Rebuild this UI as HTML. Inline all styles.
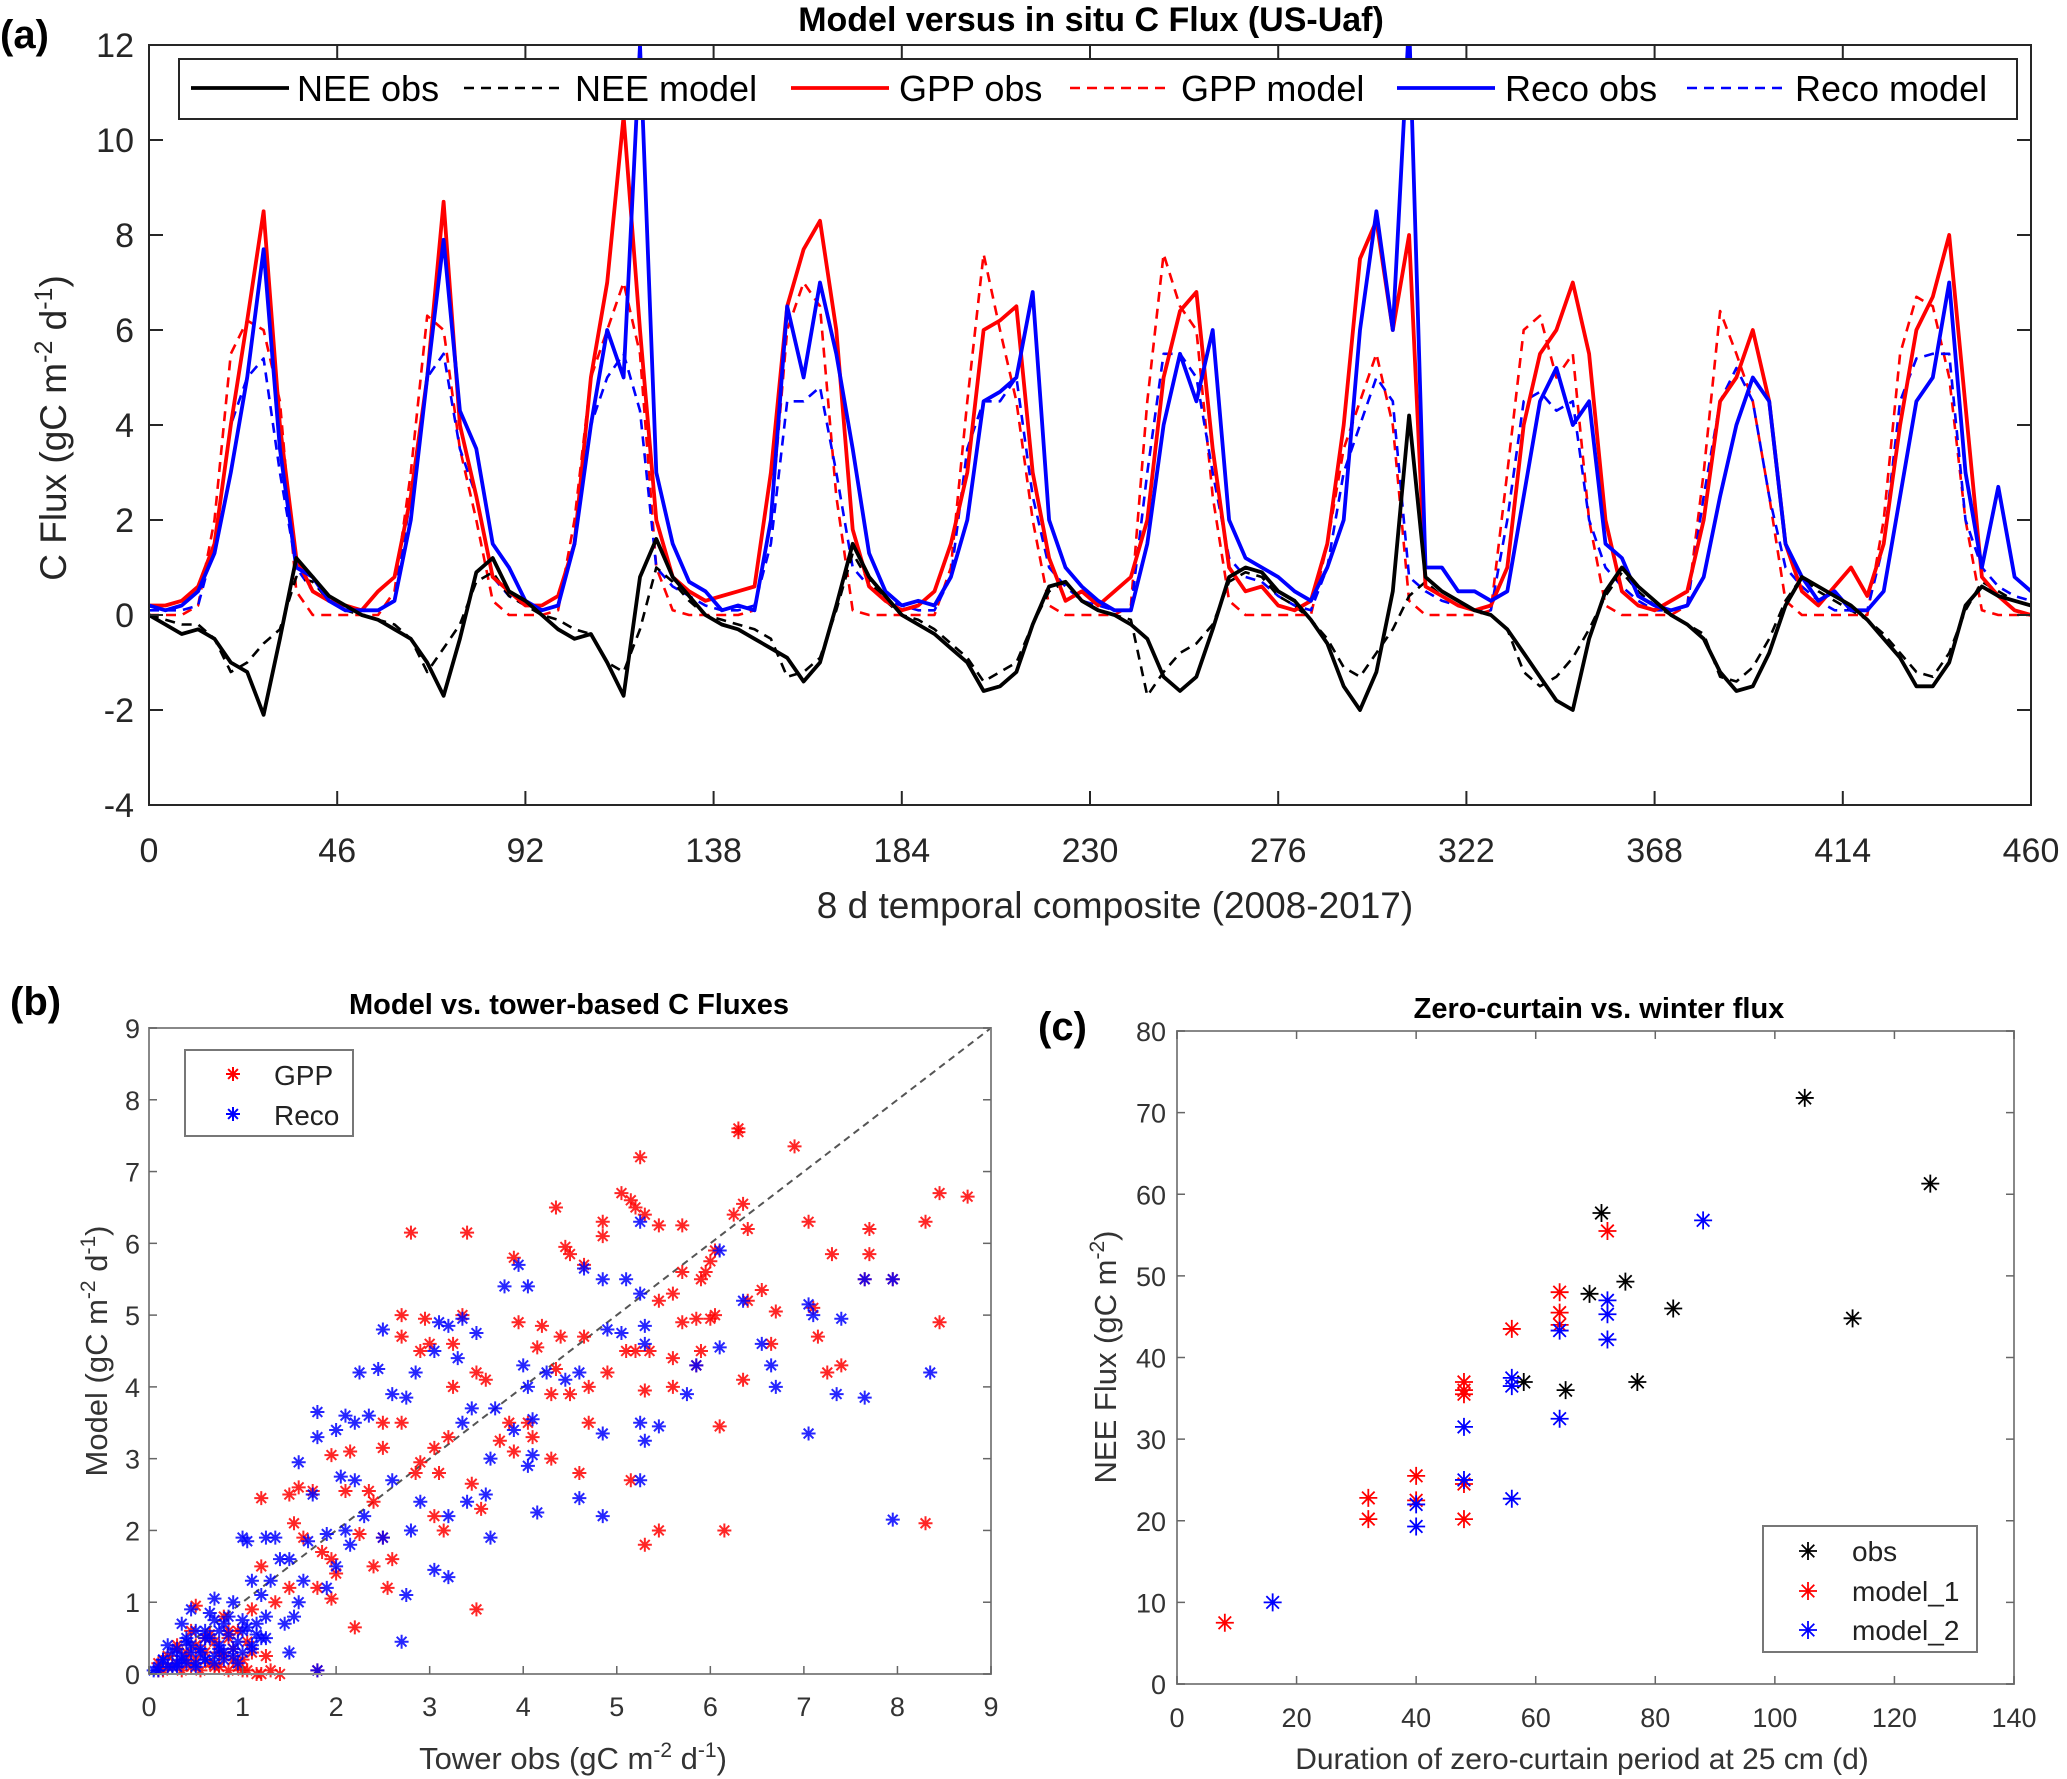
<!DOCTYPE html>
<html><head><meta charset="utf-8"><style>
html,body{margin:0;padding:0;background:#fff;}
svg{display:block;font-family:"Liberation Sans",Arial,sans-serif;}
</style></head><body>
<svg id="fig" width="2067" height="1779" viewBox="0 0 2067 1779" xmlns="http://www.w3.org/2000/svg">
<rect width="2067" height="1779" fill="#fff"/>
<g id="pa"></g>
<g id="pb"></g>
<g id="pc"></g>
</svg>
<script>
// ---------- Panel (a) data: values at x = 0,4,8,...,460 ----------
const tsStep = 4;
const gppObs = [0.2,0.2,0.3,0.6,1.5,4,6.2,8.5,4,1.2,0.5,0.3,0.2,0.1,0.5,0.8,2.5,5,8.7,4,2.5,0.8,0.5,0.2,0.2,0.4,1.5,5,7,10.5,6,2,0.8,0.5,0.3,0.4,0.5,0.6,3,6.5,7.7,8.3,6,1.8,0.6,0.3,0.1,0.2,0.5,1.5,3,6,6.2,6.5,3,1.2,0.3,0.5,0.2,0.5,0.8,2,5,6.4,6.8,3.5,1,0.5,0.6,0.2,0.1,0.3,1.5,4,7.5,8.3,6,8,0.6,0.4,0.2,0.1,0.2,1,4,5.5,6,7,5.5,2,0.5,0.2,0.1,0.3,0.5,2,4.5,5,6,4.5,1.5,0.5,0.2,0.6,1.0,0.4,1.5,4,6,6.7,8,4.4,0.8,0.4,0.1,0];
const recoObs = [0.2,0.1,0.2,0.5,1.3,3,5,7.7,3.5,1.0,0.8,0.3,0.1,0.1,0.1,0.3,2,5,7.9,4.3,3.5,1.5,1.0,0.3,0.1,0.2,1.5,4,6,5,12,3,1.5,0.7,0.5,0.1,0.2,0.1,2,6.5,5,7,5.5,3.5,1.3,0.5,0.2,0.3,0.2,0.8,2,4.5,4.7,5,6.8,2,1,0.6,0.3,0.1,0.1,1.5,4,5.5,4.5,6,2,1.2,1.0,0.8,0.5,0.3,1.0,2,6,8.5,6,12.5,1.0,1.0,0.5,0.5,0.3,0.5,2.5,4.5,5.2,4,4.5,1.5,1.2,0.4,0.2,0.1,0.2,0.8,2.5,4,5,4.5,1.5,0.8,0.3,0.5,0.1,0.1,0.5,2.5,4.5,5,7,3,1,2.7,0.8,0.5];
const gppMod = [0,0,0,0.2,2,5.5,6.2,6,4.5,0.5,0,0,0,0,0,0.5,3,6.3,6,3.5,2,0.3,0,0,0,0.1,2,5,6,7,5.5,1,0.1,0,0,0,0,0.1,2,6,7,6.5,2.5,0.1,0,0,0,0,0,1,4.5,7.6,6,4.5,2,0.2,0,0,0,0,0.2,4.5,7.6,6.5,6,2.5,0.3,0,0,0,0,0,1.5,3.5,4.5,5.5,4,0.3,0,0,0,0,0.1,3,6,6.3,5,5.5,2,0.2,0,0,0,0,0.2,3,6.4,5.5,4.5,2.5,0.3,0,0,0,0,0,2,5.5,6.7,6.5,5,2,0.1,0,0,0];
const recoMod = [0.1,0.1,0.1,0.2,1.5,4,5,5.4,3,1.0,0.5,0.3,0.2,0.1,0.1,0.3,2.5,5,5.5,3.5,2.5,0.8,0.4,0.2,0.1,0.2,1.5,4,5,5.5,4.3,1,0.6,0.4,0.2,0.1,0.1,0.2,1.5,4.5,4.5,4.8,3,1,0.6,0.3,0.2,0.1,0.1,0.8,3.5,4.5,4.5,5,2.5,1,0.6,0.3,0.2,0.1,0.1,3,5.5,5.5,5,3,1.2,0.8,0.7,0.4,0.2,0.1,1,3,4,5,4.5,0.8,0.5,0.3,0.2,0.1,0.1,2,4.5,4.7,4.3,4.5,2,1,0.6,0.3,0.1,0.1,0.2,2.5,4.5,5.2,4.5,2.5,1,0.6,0.3,0.1,0.1,0.1,1.5,4.5,5.4,5.5,5.5,2,1,0.6,0.4,0.3];
const neeObs = [0,-0.2,-0.4,-0.3,-0.5,-1,-1.2,-2.1,-0.5,1.2,0.8,0.4,0.2,0,-0.1,-0.3,-0.5,-1,-1.7,-0.5,0.9,1.2,0.5,0.3,0,-0.3,-0.5,-0.4,-1,-1.7,0.8,1.6,0.8,0.4,0,-0.2,-0.3,-0.5,-0.7,-0.9,-1.4,-1.0,0.2,1.5,0.8,0.4,0,-0.2,-0.4,-0.7,-1.0,-1.6,-1.5,-1.2,-0.2,0.6,0.7,0.3,0.1,0,-0.2,-0.5,-1.3,-1.6,-1.3,-0.3,0.8,1.0,0.9,0.5,0.3,-0.1,-0.6,-1.5,-2.0,-1.2,0.5,4.2,0.8,0.5,0.3,0.1,0,-0.3,-0.8,-1.3,-1.8,-2.0,-0.5,0.5,1.0,0.6,0.3,0,-0.2,-0.5,-1.2,-1.6,-1.5,-0.8,0.2,0.8,0.6,0.4,0.2,-0.1,-0.5,-0.9,-1.5,-1.5,-1,0.2,0.6,0.4,0.3,0.2];
const neeMod = [0,-0.1,-0.2,-0.2,-0.5,-1.2,-1.0,-0.6,-0.3,0.8,0.7,0.3,0.1,0,-0.1,-0.2,-0.5,-1.2,-0.7,-0.2,0.7,0.9,0.4,0.2,0,-0.1,-0.3,-0.4,-1.0,-1.2,-0.3,1.0,0.7,0.3,0,-0.1,-0.2,-0.3,-0.5,-1.3,-1.2,-0.9,0.1,1.3,0.7,0.3,0,-0.1,-0.3,-0.6,-0.9,-1.4,-1.2,-1.0,-0.2,0.5,0.7,0.3,0.1,0,-0.1,-1.7,-1.2,-0.8,-0.6,-0.2,0.7,0.9,0.8,0.4,0.2,-0.1,-0.5,-1.1,-1.3,-0.8,-0.3,0.4,0.7,0.4,0.2,0.1,0,-0.3,-1.2,-1.5,-1.3,-0.9,-0.3,0.4,0.9,0.5,0.2,0,-0.2,-0.4,-1.3,-1.4,-1.1,-0.5,0.3,0.8,0.5,0.3,0.1,-0.1,-0.4,-0.8,-1.2,-1.3,-0.8,0.1,0.7,0.5,0.3,0.2];
const aXTicks = [0,46,92,138,184,230,276,322,368,414,460];
const aYTicks = [-4,-2,0,2,4,6,8,10,12];
const aLegendLabels = ["NEE obs","NEE model","GPP obs","GPP model","Reco obs","Reco model"];

// ---------- Panel (b) data ----------
const gppX = [6.3,6.3,6.9,5.25,8.45,8.75,8.3,7.05,2.8,3.4,4.35,5.05,5.15,5.2,5.3,4.85,4.85,5.45,5.7,6.25,6.35,6.4,7.7,7.7,7.3,6.05,6.0,5.95,5.9,5.7,4.45,4.5,4.65,3.9,7.65,7.95,8.45,6.55,6.4,6.05,6.0,5.85,5.7,5.6,5.45,6.7,7.1,7.15,7.25,7.4,6.35,6.65,5.9,5.85,5.6,5.35,5.1,4.65,4.4,4.2,4.15,3.95,4.35,4.3,4.5,4.7,4.9,5.3,5.6,5.2,4.7,4.3,4.05,3.85,3.75,3.5,3.6,3.25,3.0,2.9,2.7,2.7,2.95,3.35,3.25,3.2,3.05,3.1,2.9,2.7,2.5,2.5,2.4,2.35,2.1,2.15,1.95,1.75,1.6,1.5,1.2,1.55,1.85,1.95,2.5,2.4,2.55,3.05,3.15,3.45,3.55,3.5,6.1,6.15,5.3,5.45,5.15,8.3,2.2,1.5,1.2,1.35,1.1,0.95,0.85,0.75,0.5,0.6,0.4,0.3,0.2,0.1,0.5,0.7,1.0,1.2,1.4,1.8,0.9,0.3,1.8,2.0,1.65,2.25,2.85,3.9,4.1,4.6,2.6,1.95,0.8,
 0.15,0.25,0.35,0.45,0.55,0.65,0.75,0.85,0.95,1.05,1.15,1.3,0.2,0.4,0.6,0.8,1.0,0.1,0.3,0.5,0.7,0.9,1.1,1.25,0.45,0.65,0.85,1.05];
const gppY = [7.6,7.55,7.35,7.2,6.7,6.65,6.3,6.3,6.15,6.15,6.5,6.7,6.6,6.5,6.4,6.3,6.1,6.25,6.25,6.4,6.55,6.2,6.2,5.85,5.85,5.9,5.75,5.6,5.5,5.6,5.95,5.85,5.7,5.8,5.5,5.5,4.9,5.35,5.2,5.0,4.95,4.95,4.9,5.3,5.2,5.05,5.1,4.7,4.2,4.3,4.1,4.6,4.5,4.3,4.4,4.5,4.5,4.7,4.7,4.85,4.55,4.9,4.25,3.9,3.9,4.0,4.2,3.95,4.0,4.5,3.5,3.0,3.5,3.5,3.25,4.2,4.1,4.6,4.6,4.5,4.7,5.0,4.95,5.0,4.0,3.3,3.15,2.8,2.95,3.5,3.5,3.15,2.4,2.55,2.55,3.1,3.05,2.55,2.6,2.5,2.45,2.1,1.7,1.6,1.9,1.5,1.2,2.2,2.0,2.65,2.3,0.9,3.45,2.0,1.8,2.0,2.7,2.1,0.65,1.2,1.5,1.0,0.9,0.6,0.5,0.3,0.95,0.5,0.3,0.15,0.1,0.05,0.2,0.1,0.05,0,0,0.05,0.2,0.4,1.2,1.4,1.9,1.95,2.8,3.1,3.3,2.8,1.6,1.05,0.8,
 0.05,0.1,0.05,0.1,0.05,0.15,0.1,0.05,0.1,0.05,0.0,0.05,0.25,0.2,0.3,0.25,0.2,0.15,0.35,0.4,0.45,0.35,0.3,0.25,0.6,0.55,0.6,0.45];
const recoX = [5.25,6.1,3.95,4.65,4.85,5.1,5.25,3.8,4.05,7.65,7.95,7.05,7.4,7.1,6.55,6.65,6.7,7.35,7.65,8.35,7.95,7.05,6.1,5.85,5.75,5.45,5.25,5.3,4.85,4.6,4.85,4.15,4.1,4.05,5.25,6.35,5.05,5.3,5.3,4.9,4.6,4.45,4.25,4.05,3.9,4.1,4.0,3.7,3.65,3.6,3.4,3.2,3.2,3.05,2.75,2.7,3.65,3.35,3.45,3.3,3.1,3.2,3.35,3.5,3.05,2.85,2.75,2.6,2.5,2.45,2.25,2.35,2.1,2.2,2.0,1.8,1.8,2.05,2.2,2.3,2.1,1.9,1.7,1.6,1.75,1.5,1.4,1.35,1.25,1.05,1.0,1.1,1.2,0.9,0.85,0.75,0.7,0.6,0.55,0.5,0.45,0.4,0.35,0.3,0.25,0.2,0.15,0.1,0.05,0.6,0.8,1.0,1.15,1.3,1.45,1.25,1.1,0.95,1.8,1.5,1.6,1.9,2.0,2.15,2.5,2.6,2.8,2.9,1.65,1.55,0.7,0.45,0.65,0.75,0.35,
 0.1,0.2,0.3,0.4,0.5,0.6,0.7,0.8,0.9,1.0,1.1,1.2,0.15,0.35,0.55,0.75,0.95,1.15,0.25,0.45,0.65,0.85,1.05,1.25,0.3,0.5,0.7,0.9,0.4,0.6,0.8,1.0];
const recoY = [6.3,5.9,5.7,5.65,5.5,5.5,5.3,5.4,5.4,5.5,5.5,5.15,4.95,5.0,4.6,4.3,4.0,3.9,3.85,4.2,2.15,3.35,4.55,4.3,3.9,3.45,3.5,3.25,3.35,2.45,2.2,2.25,3.05,2.9,2.7,5.2,4.75,4.85,4.6,4.8,4.2,4.1,4.2,4.0,3.4,3.55,4.3,3.7,3.0,2.5,2.4,2.2,1.35,1.45,1.1,0.45,1.9,3.5,3.7,4.4,4.9,4.85,4.95,4.75,4.5,4.2,3.85,3.9,4.8,4.25,4.2,3.6,3.6,3.5,3.4,3.65,3.3,2.75,2.7,2.2,2.0,1.95,1.85,2.95,2.5,1.6,1.6,1.9,1.9,1.85,1.9,1.3,1.1,1.0,0.8,0.6,0.75,0.5,0.35,0.6,0.3,0.5,0.2,0.35,0.1,0.4,0.2,0.1,0.05,0.2,0.3,0.6,0.7,1.3,0.7,0.5,0.35,0.15,0.05,0.3,1.0,1.2,1.5,1.8,1.9,2.7,2.0,2.4,1.3,0.8,1.05,0.9,0.85,0.4,0.7,
 0.05,0.1,0.1,0.15,0.1,0.2,0.15,0.2,0.25,0.3,0.4,0.5,0.2,0.25,0.3,0.35,0.45,0.55,0.3,0.4,0.5,0.55,0.65,0.8,0.15,0.15,0.25,0.35,0.45,0.6,0.7,0.75];
const bTicks = [0,1,2,3,4,5,6,7,8,9];

// ---------- Panel (c) data ----------
const obsX = [71,105,126,69,75,83,113,58,77,65];
const obsY = [57.7,71.8,61.3,47.8,49.3,46,44.8,37,37,36];
const m1X = [8,32,32,40,40,48,48,48,48,48,56,64,64,64,72];
const m1Y = [7.5,22.8,20.2,25.5,22.5,37,36,35.5,24.5,20.2,43.5,48,45.5,44,55.5];
const m2X = [16,40,40,48,48,56,56,56,64,64,72,72,72,88];
const m2Y = [10,22,19.3,31.5,25,37.5,36.5,22.7,43.3,32.5,47,45.3,42.2,56.8];
const cXTicks = [0,20,40,60,80,100,120,140];
const cYTicks = [0,10,20,30,40,50,60,70,80];

const NS = "http://www.w3.org/2000/svg";
function mk(parent, tag, attrs, text){
  const e = document.createElementNS(NS, tag);
  for (const k in attrs) e.setAttribute(k, attrs[k]);
  if (text !== undefined) e.textContent = text;
  parent.appendChild(e);
  return e;
}
function star(g, cx, cy, r, color, w){
  const d = `M${cx-r},${cy}H${cx+r}M${cx},${cy-r}V${cy+r}M${cx-r*0.7},${cy-r*0.7}L${cx+r*0.7},${cy+r*0.7}M${cx-r*0.7},${cy+r*0.7}L${cx+r*0.7},${cy-r*0.7}`;
  const p = mk(g, "path", {d:d, stroke:color, "stroke-width":w, fill:"none"});
  return p;
}

// ================= Panel A =================
(function(){
  const g = document.getElementById("pa");
  const L=149,R=2031,T=45,B=805;
  const sx = v => L + (v-0)/(460-0)*(R-L);
  const sy = v => B - (v+4)/16*(B-T);
  let e;
  e = mk(g,"text",{x:0,y:48,"font-size":40,"font-weight":"bold",fill:"#000"},"(a)");
  
  
  e = mk(g,"text",{x:1091,y:31,"font-size":34,"font-weight":"bold","text-anchor":"middle",fill:"#000"},"Model versus in situ C Flux (US-Uaf)");
  
  
  const clip = mk(g,"clipPath",{id:"clipA"});
  mk(clip,"rect",{x:L,y:T,width:R-L,height:B-T});
  const series = [
    {d:gppMod,c:"#ff0000",w:2.6,dash:"10,7",name:"gpp-model-line"},
    {d:recoMod,c:"#0000ff",w:2.6,dash:"10,7",name:"reco-model-line"},
    {d:neeMod,c:"#000",w:2.6,dash:"10,7",name:"nee-model-line"},
    {d:gppObs,c:"#ff0000",w:3.8,dash:"",name:"gpp-obs-line"},
    {d:recoObs,c:"#0000ff",w:3.8,dash:"",name:"reco-obs-line"},
    {d:neeObs,c:"#000",w:3.8,dash:"",name:"nee-obs-line"}
  ];
  const sg = mk(g,"g",{"clip-path":"url(#clipA)"});
  series.forEach(s=>{
    const pts = s.d.map((v,i)=>`${sx(i*tsStep).toFixed(1)},${sy(v).toFixed(1)}`).join(" ");
    const pl = mk(sg,"polyline",{points:pts,fill:"none",stroke:s.c,"stroke-width":s.w,"stroke-dasharray":s.dash,"stroke-linejoin":"round"});
    
    
  });
  e = mk(g,"rect",{x:L,y:T,width:R-L,height:B-T,fill:"none",stroke:"#262626","stroke-width":2});
  
  
  aXTicks.forEach(t=>{
    const x = sx(t);
    mk(g,"line",{x1:x,x2:x,y1:B,y2:B-14,stroke:"#262626","stroke-width":2});
    mk(g,"line",{x1:x,x2:x,y1:T,y2:T+14,stroke:"#262626","stroke-width":2});
    const tl = mk(g,"text",{x:x,y:862,"font-size":34,"text-anchor":"middle",fill:"#262626"},String(t));
    
    
  });
  aYTicks.forEach(t=>{
    const y = sy(t);
    mk(g,"line",{x1:L,x2:L+14,y1:y,y2:y,stroke:"#262626","stroke-width":2});
    mk(g,"line",{x1:R,x2:R-14,y1:y,y2:y,stroke:"#262626","stroke-width":2});
    const tl = mk(g,"text",{x:134,y:y+12,"font-size":34,"text-anchor":"end",fill:"#262626"},String(t));
    
    
  });
  e = mk(g,"text",{x:1115,y:918,"font-size":37,"text-anchor":"middle",fill:"#262626"},"8 d temporal composite (2008-2017)");
  
  
  const yl = mk(g,"text",{transform:"translate(66,428) rotate(-90)","font-size":37,"text-anchor":"middle",fill:"#262626"});
  
  
  yl.innerHTML = 'C Flux (gC m<tspan dy="-14" font-size="25">-2</tspan><tspan dy="14"> d</tspan><tspan dy="-14" font-size="25">-1</tspan><tspan dy="14">)</tspan>';
  const lg = mk(g,"g",{});
  
  
  mk(lg,"rect",{x:179,y:59,width:1838,height:60,fill:"#fff",stroke:"#262626","stroke-width":2});
  const lineX = [191,464,791,1070,1397,1687];
  const textX = [297,575,899,1181,1505,1795];
  const cols = ["#000","#000","#ff0000","#ff0000","#0000ff","#0000ff"];
  aLegendLabels.forEach((lab,i)=>{
    const dashed = i%2===1;
    const ln = mk(lg,"line",{x1:lineX[i],x2:lineX[i]+98,y1:88,y2:88,stroke:cols[i],"stroke-width":dashed?2.6:3.8,"stroke-dasharray":dashed?"10,7":""});
    
    
    const tx = mk(lg,"text",{x:textX[i],y:101,"font-size":36,fill:"#000"},lab);
    
    
  });
})();

// ================= Panel B =================
(function(){
  const g = document.getElementById("pb");
  const L=149,R=991,T=1028,B=1674;
  const sx = v => L + v/9*(R-L);
  const sy = v => B - v/9*(B-T);
  let e;
  e = mk(g,"text",{x:10,y:1015,"font-size":40,"font-weight":"bold",fill:"#000"},"(b)");
  
  
  e = mk(g,"text",{x:569,y:1014,"font-size":29,"font-weight":"bold","text-anchor":"middle",fill:"#000"},"Model vs. tower-based C Fluxes");
  
  
  e = mk(g,"line",{x1:sx(0),y1:sy(0),x2:sx(9),y2:sy(9),stroke:"#555","stroke-width":2,"stroke-dasharray":"7,5"});
  
  
  gppX.forEach((x,i)=>{
    const p = star(g, sx(x), sy(gppY[i]), 7, "rgba(255,0,0,0.85)", 2);
    
    
  });
  recoX.forEach((x,i)=>{
    const p = star(g, sx(x), sy(recoY[i]), 7, "rgba(0,0,255,0.85)", 2);
    
    
  });
  e = mk(g,"rect",{x:L,y:T,width:R-L,height:B-T,fill:"none",stroke:"#888","stroke-width":2});
  
  
  bTicks.forEach(t=>{
    mk(g,"line",{x1:sx(t),x2:sx(t),y1:B,y2:B-8,stroke:"#666","stroke-width":1.5});
    mk(g,"line",{x1:L,x2:L+8,y1:sy(t),y2:sy(t),stroke:"#666","stroke-width":1.5});
    mk(g,"line",{x1:R,x2:R-8,y1:sy(t),y2:sy(t),stroke:"#666","stroke-width":1.5});
    const a = mk(g,"text",{x:sx(t),y:1716,"font-size":27,"text-anchor":"middle",fill:"#333"},String(t));
    
    
    const b = mk(g,"text",{x:140,y:sy(t)+10,"font-size":27,"text-anchor":"end",fill:"#333"},String(t));
    
    
  });
  const xl = mk(g,"text",{x:573,y:1769,"font-size":31,"text-anchor":"middle",fill:"#333"});
  
  
  xl.innerHTML = 'Tower obs (gC m<tspan dy="-12" font-size="21">-2</tspan><tspan dy="12"> d</tspan><tspan dy="-12" font-size="21">-1</tspan><tspan dy="12">)</tspan>';
  const yl = mk(g,"text",{transform:"translate(107,1351) rotate(-90)","font-size":31,"text-anchor":"middle",fill:"#333"});
  
  
  yl.innerHTML = 'Model (gC m<tspan dy="-12" font-size="21">-2</tspan><tspan dy="12"> d</tspan><tspan dy="-12" font-size="21">-1</tspan><tspan dy="12">)</tspan>';
  const lg = mk(g,"g",{});
  
  
  mk(lg,"rect",{x:185,y:1050,width:168,height:86,fill:"#fff",stroke:"#777","stroke-width":2});
  star(lg,233,1074,7,"#ff0000",2);
  e = mk(lg,"text",{x:274,y:1085,"font-size":28,fill:"#222"},"GPP");
  
  
  star(lg,233,1114,7,"#0000ff",2);
  e = mk(lg,"text",{x:274,y:1125,"font-size":28,fill:"#222"},"Reco");
  
  
})();

// ================= Panel C =================
(function(){
  const g = document.getElementById("pc");
  const L=1177,R=2014,T=1031,B=1684;
  const sx = v => L + v/140*(R-L);
  const sy = v => B - v/80*(B-T);
  let e;
  e = mk(g,"text",{x:1038,y:1040,"font-size":40,"font-weight":"bold",fill:"#000"},"(c)");
  
  
  e = mk(g,"text",{x:1599,y:1018,"font-size":29,"font-weight":"bold","text-anchor":"middle",fill:"#000"},"Zero-curtain vs. winter flux");
  
  
  const sets = [[obsX,obsY,"#000","obs-point"],[m1X,m1Y,"#ff0000","model-1-point"],[m2X,m2Y,"#0000ff","model-2-point"]];
  sets.forEach(s=>{
    s[0].forEach((x,i)=>{
      const p = star(g, sx(x), sy(s[1][i]), 9, s[2], 1.8);
      
      
    });
  });
  e = mk(g,"rect",{x:L,y:T,width:R-L,height:B-T,fill:"none",stroke:"#888","stroke-width":2});
  
  
  cXTicks.forEach(t=>{
    mk(g,"line",{x1:sx(t),x2:sx(t),y1:B,y2:B-8,stroke:"#666","stroke-width":1.5});
    mk(g,"line",{x1:sx(t),x2:sx(t),y1:T,y2:T+8,stroke:"#666","stroke-width":1.5});
    const a = mk(g,"text",{x:sx(t),y:1727,"font-size":27,"text-anchor":"middle",fill:"#333"},String(t));
    
    
  });
  cYTicks.forEach(t=>{
    mk(g,"line",{x1:L,x2:L+8,y1:sy(t),y2:sy(t),stroke:"#666","stroke-width":1.5});
    mk(g,"line",{x1:R,x2:R-8,y1:sy(t),y2:sy(t),stroke:"#666","stroke-width":1.5});
    const b = mk(g,"text",{x:1166,y:sy(t)+10,"font-size":27,"text-anchor":"end",fill:"#333"},String(t));
    
    
  });
  e = mk(g,"text",{x:1582,y:1769,"font-size":30,"text-anchor":"middle",fill:"#333"},"Duration of zero-curtain period at 25 cm (d)");
  
  
  const yl = mk(g,"text",{transform:"translate(1116,1357) rotate(-90)","font-size":31,"text-anchor":"middle",fill:"#333"});
  
  
  yl.innerHTML = 'NEE Flux (gC m<tspan dy="-12" font-size="21">-2</tspan><tspan dy="12">)</tspan>';
  const lg = mk(g,"g",{});
  
  
  mk(lg,"rect",{x:1763,y:1526,width:214,height:126,fill:"#fff",stroke:"#777","stroke-width":2});
  const labs = ["obs","model_1","model_2"], cols=["#000","#ff0000","#0000ff"], ys=[1551,1591,1630];
  labs.forEach((l,i)=>{
    star(lg,1808,ys[i],9,cols[i],1.8);
    const t = mk(lg,"text",{x:1852,y:ys[i]+10,"font-size":28,fill:"#222"},l);
    
    
  });
})();
</script>
</body></html>
